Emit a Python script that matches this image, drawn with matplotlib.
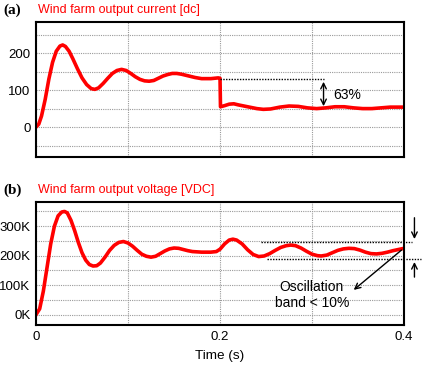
import matplotlib
matplotlib.use("Agg")
import matplotlib.pyplot as plt
from matplotlib.ticker import MultipleLocator, FuncFormatter

# (a) wind farm output current [dc]
t_current = [0.0, 0.003, 0.006, 0.010, 0.014, 0.018, 0.022, 0.026, 0.029, 0.032,
             0.036, 0.040, 0.045, 0.050, 0.055, 0.060, 0.064, 0.068, 0.073, 0.078,
             0.083, 0.088, 0.093, 0.098, 0.103, 0.108, 0.113, 0.118, 0.123, 0.128,
             0.133, 0.138, 0.143, 0.148, 0.153, 0.158, 0.163, 0.168, 0.173, 0.180,
             0.190, 0.198, 0.200, 0.2005, 0.205, 0.210, 0.215, 0.220, 0.230, 0.240,
             0.247, 0.255, 0.265, 0.275, 0.285, 0.295, 0.305, 0.315, 0.325, 0.335,
             0.345, 0.355, 0.365, 0.375, 0.385, 0.400]
current = [0, 8, 30, 75, 130, 175, 205, 219, 222, 218,
           205, 185, 158, 133, 115, 104, 102, 106, 118, 132,
           145, 153, 156, 153, 145, 136, 129, 125, 124, 126,
           132, 138, 142, 145, 145, 143, 140, 137, 134, 131,
           131, 133, 132, 55, 58, 62, 63, 60, 55, 50,
           48, 49, 54, 57, 56, 52, 50, 52, 55, 55,
           52, 50, 50, 52, 54, 54]

# (b) wind farm output voltage [VDC], in kV
t_voltage = [0.0, 0.004, 0.008, 0.012, 0.016, 0.020, 0.024, 0.028, 0.031, 0.034,
             0.038, 0.042, 0.046, 0.050, 0.054, 0.058, 0.062, 0.066, 0.070, 0.075,
             0.080, 0.085, 0.090, 0.095, 0.100, 0.105, 0.110, 0.115, 0.120, 0.125,
             0.130, 0.135, 0.140, 0.145, 0.150, 0.155, 0.160, 0.165, 0.170, 0.180,
             0.190, 0.196, 0.200, 0.205, 0.210, 0.214, 0.218, 0.224, 0.230, 0.236,
             0.242, 0.248, 0.254, 0.260, 0.266, 0.272, 0.277, 0.282, 0.288, 0.294,
             0.300, 0.306, 0.310, 0.316, 0.322, 0.328, 0.334, 0.340, 0.346, 0.352,
             0.358, 0.364, 0.370, 0.376, 0.382, 0.388, 0.394, 0.400]
voltage = [0, 20, 80, 160, 240, 300, 335, 348, 350, 345,
           320, 285, 245, 210, 185, 170, 165, 166, 175, 195,
           218, 235, 245, 248, 243, 232, 218, 205, 198, 195,
           198, 207, 216, 223, 226, 225, 221, 217, 214, 212,
           212, 214, 222, 240, 253, 256, 253, 240, 220, 204,
           197, 199, 207, 218, 228, 234, 236, 234, 226, 215,
           205, 200, 199, 202, 210, 218, 223, 225, 224, 219,
           212, 207, 206, 208, 212, 217, 221, 225]

current_ticks = [0, 100, 200]
voltage_ticks = [0, 100, 200, 300]
time_ticks = [0, 0.2, 0.4]

plt.rcParams["font.family"] = ["Liberation Sans", "DejaVu Sans"]

fig = plt.figure(figsize=(4.25, 3.67), dpi=100)
fig.patch.set_facecolor("white")

ax_a = fig.add_axes([0.0847, 0.572, 0.866, 0.368])
ax_b = fig.add_axes([0.0847, 0.1144, 0.866, 0.3352])


def style_axes(ax):
    ax.set_xlim(0, 0.4)
    ax.xaxis.set_major_locator(MultipleLocator(0.1))
    ax.grid(True, which="both", color="#9a9a9a", linestyle=(0, (1, 1)), linewidth=0.8)
    ax.tick_params(which="both", length=0, labelsize=9.5, pad=4)
    for spine in ax.spines.values():
        spine.set_linewidth(1.5)
        spine.set_color("black")
    ax.set_axisbelow(True)


style_axes(ax_a)
ax_a.plot(t_current, current, color="#ff0000", linewidth=2.6)
ax_a.set_ylim(-81, 284)
ax_a.set_yticks(current_ticks)
ax_a.yaxis.set_minor_locator(MultipleLocator(50))
ax_a.set_xticklabels([])

# 63% drop annotation
ax_a.plot([0.2, 0.313], [129, 129], color="black", linestyle=(0, (1, 1)), linewidth=1.0)
ax_a.annotate("", xy=(0.3125, 49), xytext=(0.3125, 130),
              arrowprops=dict(arrowstyle="<->", color="black", lw=1.0))
ax_a.text(0.3235, 86, "63%", fontsize=10, va="center", ha="left")

style_axes(ax_b)
ax_b.plot(t_voltage, voltage, color="#ff0000", linewidth=2.6)
ax_b.set_ylim(-35, 382)
ax_b.set_yticks(voltage_ticks)
ax_b.yaxis.set_minor_locator(MultipleLocator(50))
ax_b.yaxis.set_major_formatter(FuncFormatter(lambda v, _: f"{int(v)}K"))
ax_b.set_xticks(time_ticks)
ax_b.xaxis.set_minor_locator(MultipleLocator(0.1))
ax_b.set_xticklabels(["0", "0.2", "0.4"])
ax_b.set_xlabel("Time (s)", fontsize=9.7, labelpad=5)

# oscillation band annotation
ax_b.plot([0.245, 0.409], [247, 247], color="black", linestyle=(0, (1, 1)),
          linewidth=1.0, clip_on=False)
ax_b.plot([0.251, 0.418], [188, 188], color="black", linestyle=(0, (1, 1)),
          linewidth=1.0, clip_on=False)
ax_b.annotate("", xy=(0.4113, 247), xytext=(0.4113, 338),
              arrowprops=dict(arrowstyle="->", color="black", lw=1.0),
              annotation_clip=False)
ax_b.annotate("", xy=(0.4113, 188), xytext=(0.4113, 118),
              arrowprops=dict(arrowstyle="->", color="black", lw=1.0),
              annotation_clip=False)
ax_b.annotate("", xy=(0.343, 78), xytext=(0.3995, 225),
              arrowprops=dict(arrowstyle="->", color="black", lw=1.0),
              annotation_clip=False)
ax_b.text(0.2997, 95, "Oscillation", fontsize=10, ha="center", va="center")
ax_b.text(0.2997, 39, "band < 10%", fontsize=10, ha="center", va="center")

# panel titles
fig.text(0.007, 0.973, "(a)", fontsize=11, fontweight="bold",
         family=["Liberation Serif", "DejaVu Serif"], va="center")
fig.text(0.089, 0.973, "Wind farm output current [dc]", fontsize=9,
         color="#ff0000", va="center")
fig.text(0.007, 0.482, "(b)", fontsize=11, fontweight="bold",
         family=["Liberation Serif", "DejaVu Serif"], va="center")
fig.text(0.089, 0.482, "Wind farm output voltage [VDC]", fontsize=9,
         color="#ff0000", va="center")

fig.savefig("out.png", dpi=100)
